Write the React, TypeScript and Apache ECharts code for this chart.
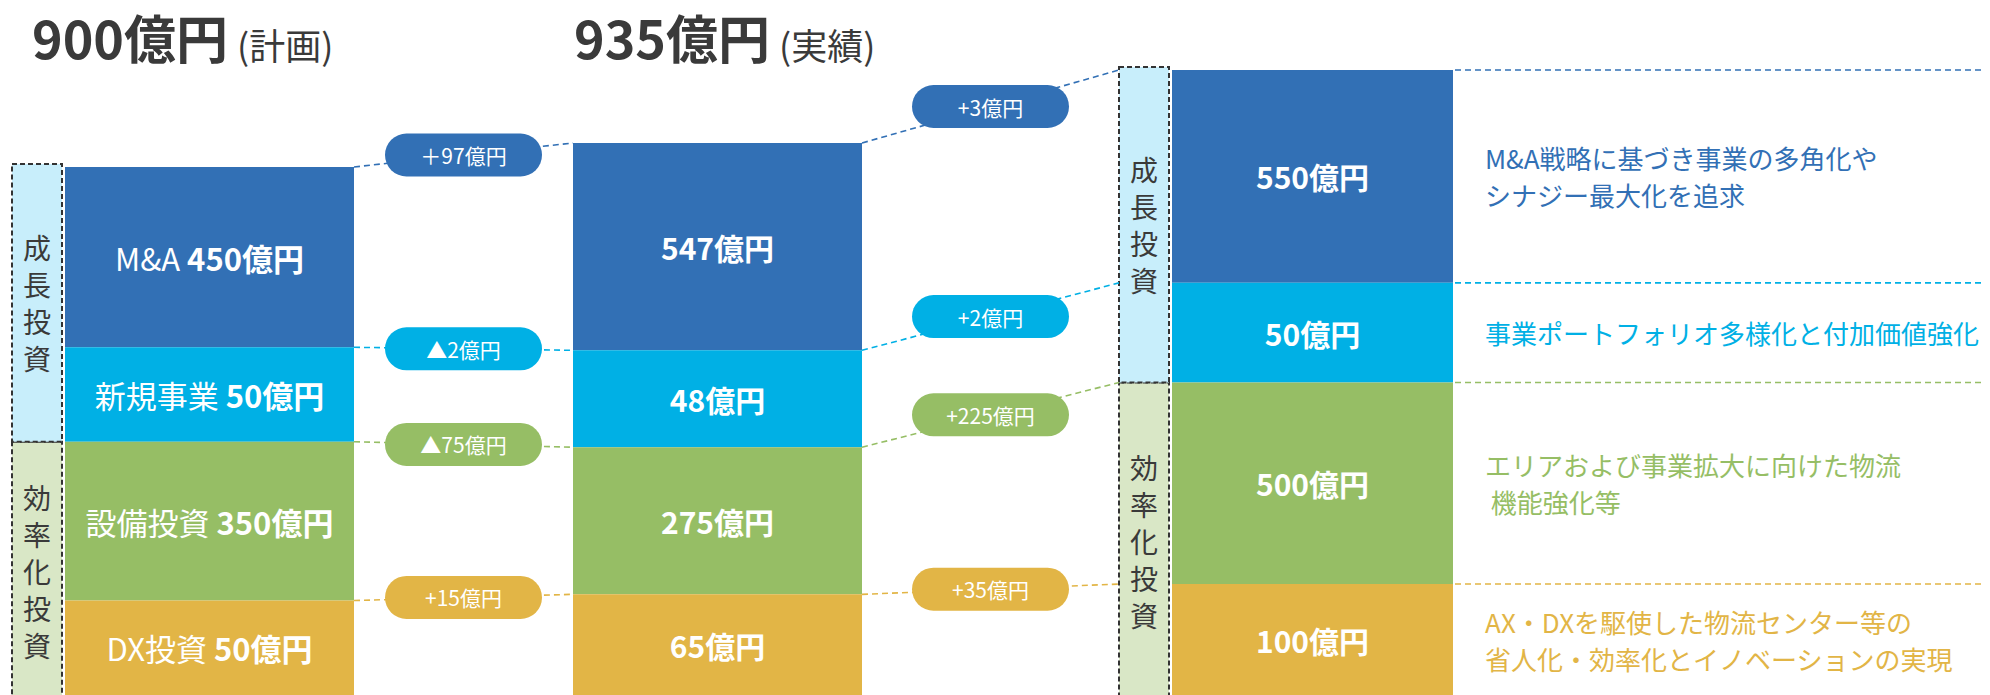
import React, { useEffect, useRef } from "react";
import * as echarts from "echarts";

// ---- data ----
const segmentNames = ["M&A", "新規事業", "設備投資", "DX投資"];
const groupNames = ["成長投資", "効率化投資"];
const columnNames = ["計画", "実績", "配分"];
const planValues = [450, 50, 350, 50];
const actualValues = [547, 48, 275, 65];
const nextValues = [550, 50, 500, 100];
const descriptions = [
  "M&A戦略に基づき事業の多角化や\nシナジー最大化を追求",
  "事業ポートフォリオ多様化と付加価値強化",
  "エリアおよび事業拡大に向けた物流\n 機能強化等",
  "AX・DXを駆使した物流センター等の\n省人化・効率化とイノベーションの実現",
];
const UNIT = "億円";

// ---- styling / layout ----
const COLORS = ["#3270B5", "#00B0E5", "#96BE65", "#E2B546"];
const GROUP_FILLS = ["#C8EEFB", "#D9E7C6"];
const TEXT_DARK = "#3a3a3a";
const FONT = '"Noto Sans CJK JP", "Noto Sans", sans-serif';
// schematic chart: every block gets a constant minimum height plus its value
const MIN_BLOCK = 390;
const BASE_Y = 700;

const columns = [
  { values: planValues, left: 65, width: 289, top: 167, withName: true, fontSize: 31 },
  { values: actualValues, left: 573, width: 289, top: 143, withName: false, fontSize: 30 },
  { values: nextValues, left: 1172, width: 281, top: 70, withName: false, fontSize: 30 },
];

const sum = (a: number[]) => a.reduce((s, v) => s + v, 0);
const weights = (vals: number[]) => vals.map((v) => v + MIN_BLOCK);

function fmtDelta(d: number, first: boolean) {
  if (d < 0) return `▲${-d}${UNIT}`;
  return `${first ? "＋" : "+"}${d}${UNIT}`;
}

export default function App() {
  const ref = useRef<HTMLDivElement>(null);

  useEffect(() => {
    const el = ref.current!;
    const chart = echarts.init(el, null, { renderer: "svg" });

    const series: any[] = [];
    columns.forEach((c, ci) => {
      c.values.forEach((v, si) => {
        series.push({
          type: "bar",
          name: `${columnNames[ci]}-${segmentNames[si]}`,
          xAxisIndex: ci,
          yAxisIndex: ci,
          stack: "col" + ci,
          barWidth: "100%",
          silent: true,
          data: [{ value: v + MIN_BLOCK, raw: v }],
          itemStyle: { color: COLORS[si] },
          label: {
            show: true,
            position: "inside",
            formatter: (p: any) =>
              c.withName
                ? `{n|${segmentNames[si]} }{v|${p.data.raw}${UNIT}}`
                : `{v|${p.data.raw}${UNIT}}`,
            rich: {
              n: { fontSize: c.fontSize, color: "#fff", fontFamily: FONT },
              v: { fontSize: c.fontSize, color: "#fff", fontFamily: FONT, fontWeight: "bold" },
            },
          },
        });
      });
    });

    chart.setOption({
      animation: false,
      backgroundColor: "#ffffff",
      grid: columns.map((c) => ({
        left: c.left,
        width: c.width,
        top: c.top,
        height: BASE_Y - c.top,
      })),
      xAxis: columns.map((c, ci) => ({
        gridIndex: ci,
        type: "category",
        data: [columnNames[ci]],
        show: false,
      })),
      yAxis: columns.map((c, ci) => ({
        gridIndex: ci,
        type: "value",
        inverse: true,
        min: 0,
        max: sum(weights(c.values)),
        show: false,
        splitLine: { show: false },
      })),
      series,
    });

    // boundaries of every block, via the axes
    const bounds = columns.map((c, ci) => {
      const w = weights(c.values);
      let cum = 0;
      const ys: number[] = [chart.convertToPixel({ gridIndex: ci }, [columnNames[ci], 0])[1]];
      w.forEach((v) => {
        cum += v;
        ys.push(chart.convertToPixel({ gridIndex: ci }, [columnNames[ci], cum])[1]);
      });
      return ys;
    });

    const g: any[] = [];

    // titles
    const titleCols = [0, 1];
    const titleX = [32, 574];
    titleCols.forEach((ci, i) => {
      const total = sum(columns[ci].values);
      const main = `${total}${UNIT}`;
      g.push({
        type: "text",
        z: 10,
        style: {
          text: main,
          x: titleX[i],
          y: 36,
          fill: TEXT_DARK,
          fontSize: 52,
          fontWeight: "bold",
          fontFamily: FONT,
          align: "left",
          verticalAlign: "middle",
        },
      });
      const mainWidth = (echarts.format as any).getTextRect
        ? (echarts.format as any).getTextRect(main, `bold 52px ${FONT}`).width
        : 195;
      g.push({
        type: "text",
        z: 10,
        style: {
          text: `(${columnNames[ci]})`,
          x: titleX[i] + mainWidth + 9,
          y: 44,
          fill: TEXT_DARK,
          fontSize: 36,
          fontFamily: FONT,
          align: "left",
          verticalAlign: "middle",
        },
      });
    });

    // group boxes (成長投資 / 効率化投資) at columns 0 and 2
    [0, 2].forEach((ci) => {
      const c = columns[ci];
      const b = bounds[ci];
      const bx = c.left - 53;
      const bw = 50;
      const ranges = [
        [b[0] - 3, b[2]],
        [b[2], BASE_Y + 10],
      ];
      [1, 0].forEach((gi) => {
        const [y0, y1] = ranges[gi];
        g.push({
          type: "rect",
          z: 10,
          shape: { x: bx, y: y0, width: bw, height: y1 - y0 },
          style: { fill: GROUP_FILLS[gi], stroke: "#333", lineWidth: 2, lineDash: [5, 3] },
        });
        g.push({
          type: "text",
          z: 11,
          style: {
            text: groupNames[gi].split("").join("\n"),
            x: bx + bw / 2,
            y: (y0 + Math.min(y1, BASE_Y)) / 2,
            fill: TEXT_DARK,
            fontSize: 28,
            lineHeight: 37,
            fontFamily: FONT,
            align: "center",
            verticalAlign: "middle",
          },
        });
      });
    });

    // connectors + delta pills
    const transitions = [
      { from: 0, to: 1, endX: columns[1].left },
      { from: 1, to: 2, endX: columns[2].left - 53 },
    ];
    transitions.forEach((t, ti) => {
      const cf = columns[t.from];
      const ct = columns[t.to];
      const x0 = cf.left + cf.width;
      const x1 = t.endX;
      for (let k = 0; k < 4; k++) {
        const y0 = bounds[t.from][k];
        const y1 = bounds[t.to][k];
        g.push({
          type: "line",
          z: 10,
          shape: { x1: x0, y1: y0, x2: x1, y2: y1 },
          style: { stroke: COLORS[k], lineWidth: 1.6, lineDash: [6, 4] },
        });
        const mx = (x0 + x1) / 2;
        const my = (y0 + y1) / 2;
        const pw = 157;
        const ph = 43;
        g.push({
          type: "rect",
          z: 12,
          shape: { x: mx - pw / 2, y: my - ph / 2, width: pw, height: ph, r: ph / 2 },
          style: { fill: COLORS[k] },
        });
        const d = ct.values[k] - cf.values[k];
        g.push({
          type: "text",
          z: 13,
          style: {
            text: fmtDelta(d, ti === 0 && k === 0),
            x: mx,
            y: my,
            fill: "#ffffff",
            fontSize: 21,
            fontFamily: FONT,
            align: "center",
            verticalAlign: "middle",
          },
        });
      }
    });

    // right side guide lines and descriptions
    const c3 = columns[2];
    const b3 = bounds[2];
    for (let k = 0; k < 4; k++) {
      g.push({
        type: "line",
        z: 10,
        shape: { x1: c3.left + c3.width + 2, y1: b3[k], x2: 1984, y2: b3[k] },
        style: { stroke: COLORS[k], lineWidth: 1.6, lineDash: [6, 4] },
      });
      const yBottom = Math.min(b3[k + 1], BASE_Y);
      g.push({
        type: "text",
        z: 10,
        style: {
          text: descriptions[k],
          x: 1485,
          y: (b3[k] + yBottom) / 2,
          fill: COLORS[k],
          fontSize: 26,
          lineHeight: 37,
          fontFamily: FONT,
          align: "left",
          verticalAlign: "middle",
        },
      });
    }

    chart.setOption({ graphic: g });

    return () => chart.dispose();
  }, []);

  return (
    <div
      ref={ref}
      style={{ position: "fixed", left: 0, top: 0, width: 1990, height: 695, background: "#fff" }}
    />
  );
}
